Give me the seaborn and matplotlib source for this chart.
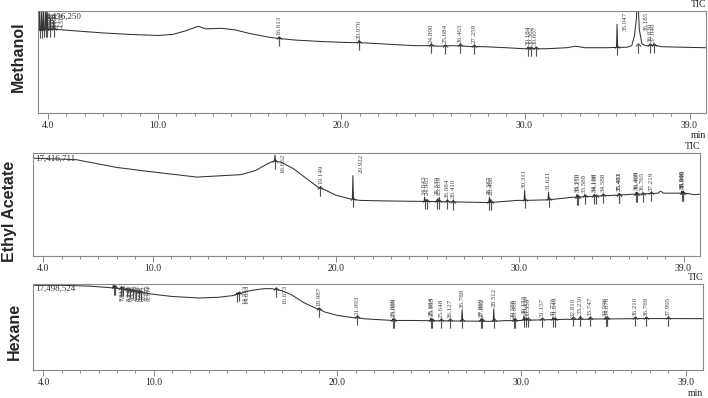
import numpy as np
import pandas as pd
import matplotlib
matplotlib.use("Agg")
import matplotlib.pyplot as plt
import seaborn as sns
from matplotlib.ticker import MultipleLocator

# ---------------- data: time (min) / signal (% of panel height) ----------------
# Methanol
meth_knot_t = [3.42, 3.5, 4.45, 5.5, 7.0, 8.5, 10.0, 10.8, 11.5, 12.2, 12.6, 13.5, 14.2, 15.0,
               16.0, 17.5, 19.0, 20.5, 22.5, 24.0, 25.3, 26.0, 27.8, 29.0, 30.0, 31.2, 32.3,
               32.8, 33.3, 34.5, 35.6, 35.85, 36.0, 36.1, 36.18, 36.26, 36.4, 36.6, 37.5, 38.5, 39.9]
meth_knot_y = [80, 81, 82, 80.5, 78.5, 77, 76, 77, 80.5, 85, 82.5, 83, 81.5, 78,
               74.5, 71.5, 70, 69, 67.5, 66, 65.5, 66, 65, 64, 63, 63, 64,
               65.5, 64, 64, 64.5, 66, 76, 92, 115, 82, 68, 66, 65, 64.5, 64]
meth_pk_t = [3.548, 3.661, 3.766, 3.883, 3.959, 4.133, 4.316, 16.613, 20.970, 24.890, 25.684,
             26.463, 27.259, 30.184, 30.362, 30.607, 35.047, 36.185, 36.830, 37.040]
meth_pk_base = [81, 81, 81.5, 82, 82, 82, 82, 73, 69, 66, 65.7,
                65.8, 65, 63, 63, 63, 64.3, 66, 66, 66.5]
meth_pk_top = [105, 104, 103, 105, 99, 93, 90, 74.5, 71, 67, 66.5,
               67, 66.5, 64.5, 64.5, 64.5, 87, 66, 67.5, 68]

# Ethyl Acetate
ea_knot_t = [3.42, 5.8, 8.0, 9.8, 12.4, 14.8, 15.6, 16.2, 16.55, 17.0, 17.65, 19.0, 20.0, 20.75,
             21.3, 22.6, 24.7, 26.5, 28.0, 29.9, 31.5, 32.9, 33.5, 35.3, 36.2, 37.0, 37.6,
             37.75, 37.9, 38.5, 39.3, 39.6, 39.9]
ea_knot_y = [95, 93.5, 86, 82, 76.6, 79, 83, 89, 92, 91, 85, 67, 59, 55.5,
             54, 53.5, 53, 52.5, 52, 54, 54.5, 57, 57.5, 59, 60, 60.5, 61,
             63, 61, 61, 60.5, 59.5, 60]
ea_pk_t = [16.662, 19.149, 20.922, 24.843, 24.965, 25.539, 25.639, 26.084, 26.410, 28.387,
           28.468, 30.311, 31.621, 33.170, 33.250, 33.588, 34.108, 34.188, 34.588, 35.481,
           35.493, 36.409, 36.469, 36.765, 37.219, 38.905, 38.946, 38.990]
ea_pk_base = [92, 66, 55, 53, 53, 52.8, 52.8, 52.6, 52.5, 52,
              52, 54, 54.6, 57.2, 57.2, 57.6, 58, 58, 58.5, 59.2,
              59.2, 60, 60, 60.2, 60.6, 61, 61, 61]
ea_pk_top = [98, 67.5, 78, 57, 55, 55.5, 57, 54.5, 54.5, 57,
             55, 64, 62, 60, 59, 59.5, 60, 59, 60, 61,
             60.5, 62, 61.5, 61.5, 61.5, 63, 62.5, 63]

# Hexane
hx_knot_t = [3.42, 5.0, 6.5, 7.5, 8.1, 8.45, 9.5, 10.0, 11.0, 12.5, 13.5, 14.3, 14.8, 15.3,
             16.0, 16.45, 17.0, 17.5, 18.2, 18.8, 19.3, 20.0, 20.8, 21.5, 22.3, 24.0, 26.5,
             28.2, 29.2, 30.9, 32.5, 34.0, 35.5, 37.0, 38.5, 39.9]
hx_knot_y = [98.5, 98.5, 97.5, 96, 94.5, 93, 89.5, 88, 85.5, 83.7, 84.5, 86.5, 89.5, 92.5,
             94.6, 94.5, 92, 87.5, 78, 72, 67.5, 63.5, 61, 59.5, 58.5, 57.6, 57,
             56.6, 57.5, 58.2, 59, 59.3, 59.6, 59.8, 59.8, 59.7]
hx_pk_t = [7.812, 7.904, 8.245, 8.316, 8.533, 8.704, 8.861, 9.022, 9.185, 9.334, 14.523,
           14.633, 16.673, 18.987, 21.093, 23.009, 23.089, 25.084, 25.165, 25.648, 26.127,
           26.788, 27.809, 27.882, 28.512, 29.588, 29.668, 30.153, 30.259, 30.359, 31.157,
           31.726, 31.849, 32.819, 33.230, 33.747, 34.596, 34.676, 36.210, 36.789, 37.995]
hx_pk_base = [95.5, 95.2, 94, 93.8, 93, 92.3, 91.6, 91, 90.4, 90, 87.8,
              88.4, 93.5, 70.5, 60.6, 57.6, 57.6, 57.3, 57.3, 57.2, 57.1,
              56.9, 56.8, 56.8, 56.7, 57.3, 57.3, 57.9, 57.9, 57.9, 58.3,
              58.6, 58.6, 58.9, 59, 59.1, 59.4, 59.4, 59.7, 59.8, 59.8]
hx_pk_top = [100, 98, 97, 96, 95, 94, 93, 92.5, 92, 91.5, 89.5,
             90, 95.5, 72, 62.5, 59.5, 59.5, 60.5, 59, 58.5, 58.5,
             70, 59, 59.5, 71, 59, 59, 63, 59.5, 59, 59.5,
             61, 60.5, 60, 63, 60.5, 61, 61, 61, 61, 61]

names = ["Methanol", "Ethyl Acetate", "Hexane"]
scale_labels = ["4,436,250", "17,416,711", "17,498,524"]
tick_vals = [4, 10, 20, 30, 39]
tick_labels = ["4.0", "10.0", "20.0", "30.0", "39.0"]


def build_trace(knot_t, knot_y, pk_t, pk_base, pk_top, w=0.03):
    t, y = list(knot_t), list(knot_y)
    for pt, pb, ptop in zip(pk_t, pk_base, pk_top):
        if ptop > pb + 0.5:
            t += [pt - w, pt, pt + w]
            y += [pb, ptop, pb]
    return pd.DataFrame({"time": t, "signal": y}).sort_values("time").reset_index(drop=True)


sns.set_style("white")
plt.rcParams["font.family"] = ["Liberation Serif", "DejaVu Serif"]

fig = plt.figure(figsize=(7.08, 3.98), dpi=100)
W, H = 708, 398
# panel boxes in pixels: left, top, right, bottom
boxes = [(37.5, 11, 706, 113), (33, 153, 700, 256), (33, 284, 703, 370)]
name_x = [18, 10, 14]
name_y = [57, 211, 331]

panels = [
    (meth_knot_t, meth_knot_y, meth_pk_t, meth_pk_base, meth_pk_top),
    (ea_knot_t, ea_knot_y, ea_pk_t, ea_pk_base, ea_pk_top),
    (hx_knot_t, hx_knot_y, hx_pk_t, hx_pk_base, hx_pk_top),
]

for i, (kt, ky, pt, pb, ptop) in enumerate(panels):
    l, t, r, b = boxes[i]
    ax = fig.add_axes([l / W, 1 - b / H, (r - l) / W, (b - t) / H])
    df = build_trace(kt, ky, pt, pb, ptop)
    sns.lineplot(data=df, x="time", y="signal", ax=ax, color="#333333", linewidth=0.75,
                 estimator=None, sort=False)
    # peak markers
    sns.scatterplot(x=pt, y=np.array(pb) - 2.5, marker=r"$\uparrow$", s=55, color="#555555",
                    linewidth=0, ax=ax, legend=False)
    # peak labels
    lab_h = 22 / (b - t) * 100
    for p in pt:
        near = df.loc[(df.time >= p - 0.15) & (df.time <= p + 0.15), "signal"].max()
        if near + 2 + lab_h > 100:
            ax.text(p + 0.45, 99, f"{p:.3f}", rotation=90, ha="center", va="top",
                    fontsize=5, color="#444444")
        else:
            ax.text(p, near + 2, f"{p:.3f}", rotation=90, ha="center", va="bottom",
                    fontsize=5, color="#444444")

    ax.set_xlim(3.43, 39.9)
    ax.set_ylim(0, 100)
    ax.set_xlabel("")
    ax.set_ylabel("")
    ax.set_yticks([])
    ax.set_xticks(tick_vals)
    ax.set_xticklabels(tick_labels)
    ax.xaxis.set_minor_locator(MultipleLocator(1))
    ax.tick_params(axis="x", which="major", length=4, width=0.6, color="#777777",
                   labelsize=7, pad=2, bottom=True)
    ax.tick_params(axis="x", which="minor", length=2.5, width=0.6, color="#777777", bottom=True)
    for s in ax.spines.values():
        s.set_color("#8a8a8a")
        s.set_linewidth(0.8)

    sx = 0.012 if i == 0 else 0.003
    ax.text(sx, 0.985, scale_labels[i], transform=ax.transAxes, ha="left", va="top",
            fontsize=6.5, color="#333333")
    ax.text(1.0, 1.02, "TIC", transform=ax.transAxes, ha="right", va="bottom", fontsize=7)
    if i != 1:
        ax.annotate("min", xy=(1, 0), xycoords="axes fraction", xytext=(0, -23),
                    textcoords="offset pixels", ha="right", va="center", fontsize=7)

    fig.text(name_x[i] / W, 1 - name_y[i] / H, names[i], rotation=90, ha="center", va="center",
             fontsize=11.5, fontweight="bold", family=["Liberation Sans", "DejaVu Sans"])

fig.savefig("out.png", dpi=100)
